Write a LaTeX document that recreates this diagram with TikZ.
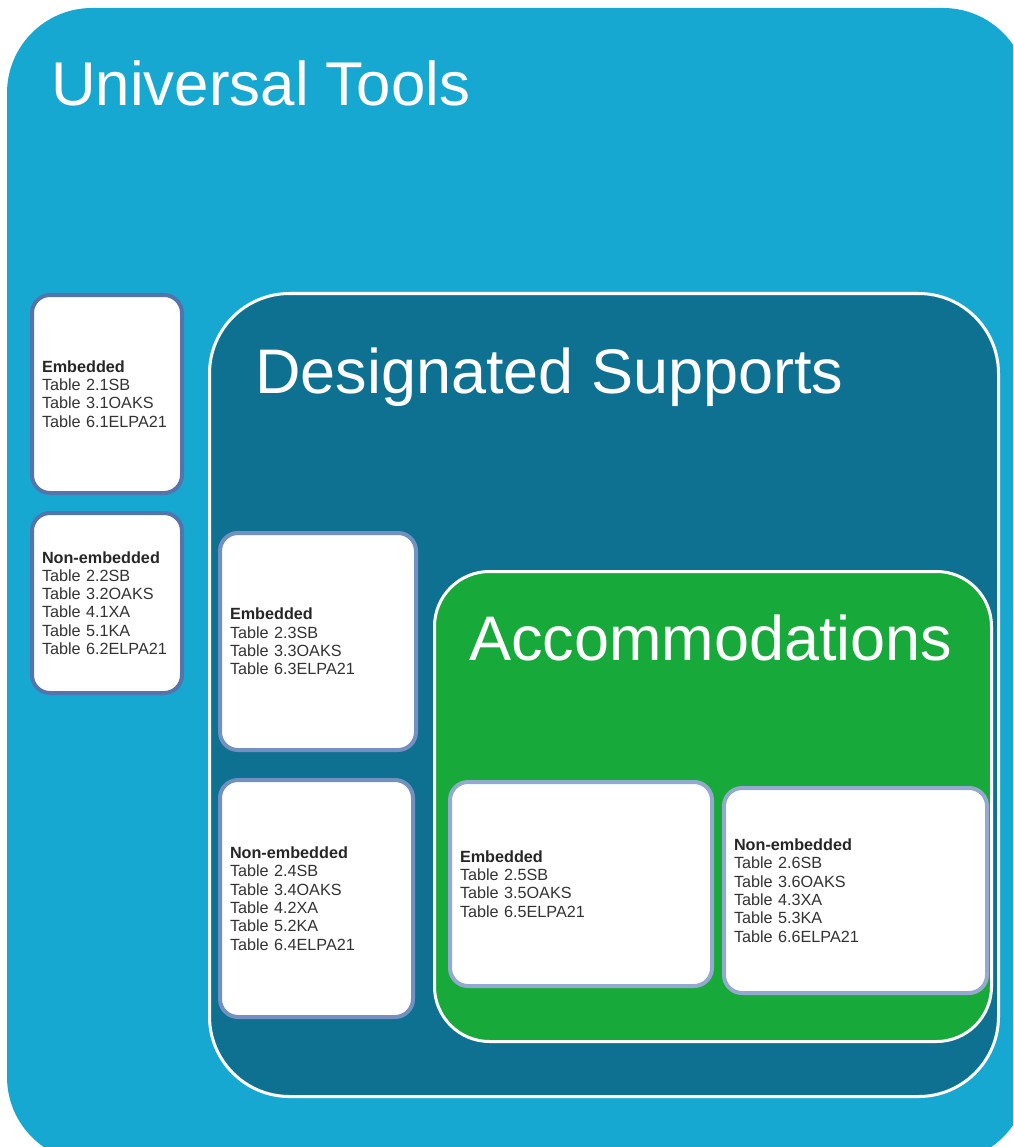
\documentclass[tikz,border=0pt]{standalone}
\usepackage{fontspec}
\setmainfont{Liberation Sans}
\usepackage{tikz}
\usepackage{xcolor}
\usetikzlibrary{positioning}
\definecolor{toolblue}{HTML}{17A8D2}
\definecolor{dsteal}{HTML}{0F7191}
\definecolor{accgreen}{HTML}{17A93A}
\definecolor{cardtext}{HTML}{333333}
\definecolor{edgeut}{HTML}{5474AE}
\definecolor{edgeds}{HTML}{7290C0}
\definecolor{edgeac}{HTML}{94A9CE}
\tikzset{%
  % panels
  panel/.style={rectangle, inner sep=0pt},
  tools/.style={panel, fill=toolblue, rounded corners=85pt},
  designated/.style={panel, fill=dsteal, draw=white, line width=3pt, rounded corners=80pt},
  accom/.style={panel, fill=accgreen, draw=white, line width=3pt, rounded corners=55pt},
  title/.style={text=white, anchor=base west, inner sep=0pt, font=\fontsize{63}{70}\selectfont},
  % cards
  card/.style={draw, fill=white, line width=4pt, rounded corners=18pt, align=left,
    inner xsep=10pt, inner ysep=0pt, text=cardtext, font=\fontsize{16.2}{18.3}\selectfont},
  utcard/.style={card, draw=edgeut},
  dscard/.style={card, draw=edgeds},
  accard/.style={card, draw=edgeac},
}
\newcommand{\head}[1]{{\bfseries\color{black!85}#1}}
\newcommand{\cardnode}[4][]{%
  % #1 = extra TikZ options
  % #2 = class (utcard | dscard | accard)
  % #3 = node name
  % #4 = content
  \node[#2, #1] (#3) {#4};
}

\begin{document}
\begin{tikzpicture}[x=1pt, y=-1pt]
  \useasboundingbox (0,0) rectangle (1013,1147);

  % Universal tools (runs off the page)
  \begin{scope}
    \clip (0,0) rectangle (1013,1147);
    \node[tools, minimum width=1021pt, minimum height=1154pt] (tools) at (517.5,585) {};
  \end{scope}
  \node[title, font=\fontsize{61.8}{70}\selectfont] (tools_title) at (51,106) {Universal Tools};

  % Designated supports
  \node[designated, minimum width=789pt, minimum height=803pt] (ds) at (604,695) {};
  \node[title] (ds_title) at (255,393) {Designated Supports};

  % Accommodations
  \node[accom, minimum width=557pt, minimum height=470pt] (acc) at (713,806.5) {};
  \node[title] (acc_title) at (469,660) {Accommodations};

  % Universal tools cards
  \cardnode[at={(107,394)}, minimum height=198pt, text width=130pt]{utcard}{ut_emb}{%
    \head{Embedded}\\Table 2.1SB\\Table 3.1OAKS\\Table 6.1ELPA21};
  \cardnode[below=16pt of ut_emb, minimum height=180pt, text width=130pt]{utcard}{ut_non}{%
    \head{Non-embedded}\\Table 2.2SB\\Table 3.2OAKS\\Table 4.1XA\\Table 5.1KA\\Table 6.2ELPA21};

  % Designated supports cards
  \cardnode[at={(318,641.5)}, minimum height=217pt, text width=176pt]{dscard}{ds_emb}{%
    \head{Embedded}\\Table 2.3SB\\Table 3.3OAKS\\Table 6.3ELPA21};
  \cardnode[below=26pt of ds_emb, xshift=-1.5pt, minimum height=237pt, text width=173pt]{dscard}{ds_non}{%
    \head{Non-embedded}\\Table 2.4SB\\Table 3.4OAKS\\Table 4.2XA\\Table 5.2KA\\Table 6.4ELPA21};

  % Accommodations cards
  \cardnode[at={(581,884)}, minimum height=204pt, text width=242pt]{accard}{acc_emb}{%
    \head{Embedded}\\Table 2.5SB\\Table 3.5OAKS\\Table 6.5ELPA21};
  \cardnode[right=8pt of acc_emb, yshift=-6.5pt, minimum height=205pt, text width=243pt]{accard}{acc_non}{%
    \head{Non-embedded}\\Table 2.6SB\\Table 3.6OAKS\\Table 4.3XA\\Table 5.3KA\\Table 6.6ELPA21};

\end{tikzpicture}
\end{document}
